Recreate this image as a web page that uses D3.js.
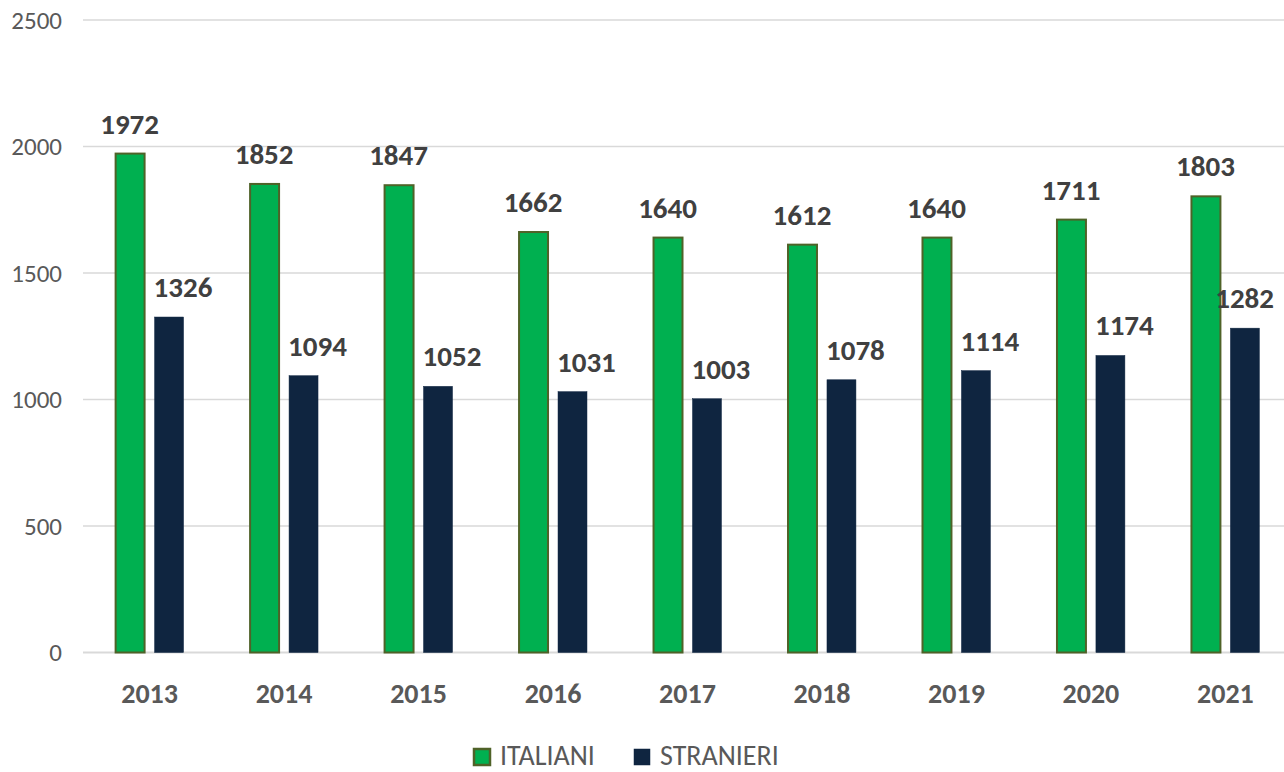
<!DOCTYPE html>
<html><head><meta charset="utf-8">
<script src="https://cdn.jsdelivr.net/npm/d3@7"></script>
<style>html,body{margin:0;padding:0;background:#fff;}</style>
</head><body>
<svg id="chart" width="1284" height="772"></svg>
<script>
const years = ["2013","2014","2015","2016","2017","2018","2019","2020","2021"];
const italiani = [1972,1852,1847,1662,1640,1612,1640,1711,1803];
const stranieri = [1326,1094,1052,1031,1003,1078,1114,1174,1282];
const seriesNames = ["ITALIANI","STRANIERI"];
const yTicks = [0,500,1000,1500,2000,2500];

const colors = {ITALIANI:"#00B050", STRANIERI:"#0F2540"};
const strokes = {ITALIANI:"#4F6228", STRANIERI:"#0F2540"};
const font = "Carlito, 'Liberation Sans', Arial, sans-serif";

const svg = d3.select("#chart");
const plotL = 81, plotR = 1294, gridL = 83, gridR = 1284;

const y = d3.scaleLinear().domain([0,2500]).range([652.5,20]);
const x0 = d3.scaleBand().domain(years).range([plotL, plotR]).paddingInner(0.48).paddingOuter(0.25);
const x1 = d3.scaleBand().domain(seriesNames).range([0, x0.bandwidth()]).paddingInner(0.25);

// gridlines
svg.append("g").selectAll("line").data(yTicks).join("line")
  .attr("x1", gridL).attr("x2", gridR)
  .attr("y1", d=>y(d)).attr("y2", d=>y(d))
  .attr("stroke", "#d9d9d9").attr("stroke-width", d=> d===0 ? 2 : 1.5);

// y tick labels
svg.append("g").selectAll("text").data(yTicks).join("text")
  .attr("x", 62).attr("y", d=>y(d)).attr("dy","0.35em")
  .attr("text-anchor","end")
  .attr("font-family", font).attr("font-size", 25).attr("fill","#595959")
  .text(d=>d);

// x labels
svg.append("g").selectAll("text").data(years).join("text")
  .attr("x", d=>x0(d)+x0.bandwidth()/2).attr("y", 703)
  .attr("text-anchor","middle")
  .attr("font-family", font).attr("font-size", 28).attr("font-weight","bold").attr("fill","#595959")
  .text(d=>d);

const rows = years.map((yr,i)=>({year:yr, ITALIANI:italiani[i], STRANIERI:stranieri[i]}));

const groups = svg.append("g").selectAll("g").data(rows).join("g")
  .attr("transform", d=>`translate(${x0(d.year)},0)`);

groups.selectAll("rect").data(d=>seriesNames.map(s=>({s, v:d[s]}))).join("rect")
  .attr("x", d=>x1(d.s)+ (d.s==="ITALIANI"?1:0))
  .attr("y", d=>y(d.v))
  .attr("width", x1.bandwidth()-1)
  .attr("height", d=>y(0)-y(d.v))
  .attr("fill", d=>colors[d.s])
  .attr("stroke", d=>strokes[d.s])
  .attr("stroke-width", d=>d.s==="ITALIANI"?2:0.5);

// value labels
groups.each(function(d){
  const g = d3.select(this);
  const gx = x0(d.year);
  const greenRight = gx + x1("ITALIANI") + x1.bandwidth();
  seriesNames.forEach(s=>{
    const t = g.append("text")
      .attr("y", y(d[s]) - 20)
      .attr("text-anchor","middle")
      .attr("font-family", font).attr("font-size", 29).attr("font-weight","bold").attr("fill","#404040")
      .text(d[s]);
    let cx = x1(s) + x1.bandwidth()/2;
    if (s === "STRANIERI") {
      const half = t.node().getComputedTextLength()/2;
      const minC = (greenRight - gx) + 9 + half;
      cx = Math.max(cx, minC);
      const maxC = (1274 - gx) - half;
      cx = Math.min(cx, maxC);
    }
    t.attr("x", cx);
  });
});

// legend
const legend = svg.append("g");
const legItems = [{s:"ITALIANI", x:474}, {s:"STRANIERI", x:634}];
legItems.forEach(it=>{
  legend.append("rect").attr("x", it.x).attr("y", 749).attr("width", 16).attr("height", 16)
    .attr("fill", colors[it.s]).attr("stroke", strokes[it.s]).attr("stroke-width", it.s==="ITALIANI"?2.5:0.5);
  legend.append("text").attr("x", it.x+26).attr("y", 765)
    .attr("font-family", font).attr("font-size", 28).attr("fill","#595959")
    .text(it.s);
});
</script>
</body></html>
